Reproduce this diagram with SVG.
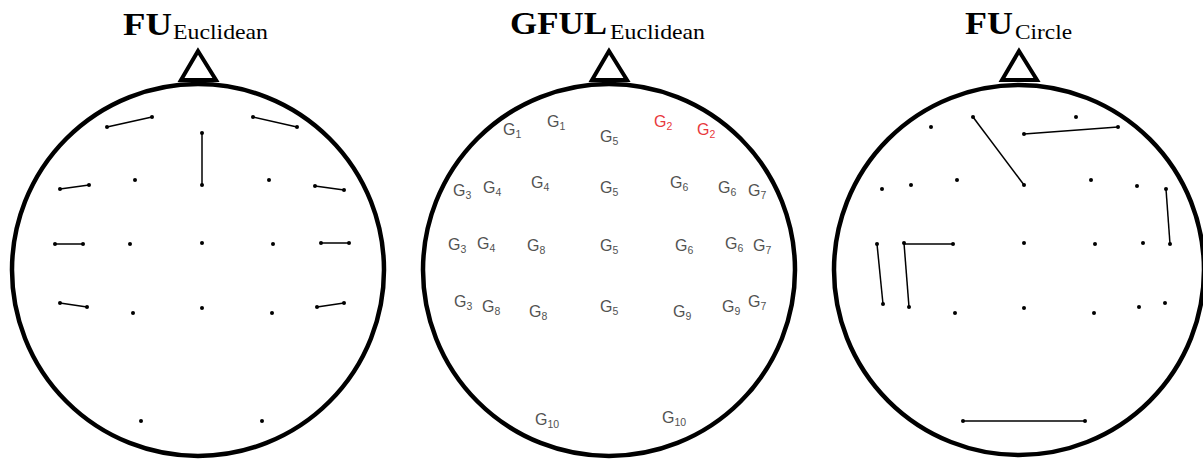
<svg xmlns="http://www.w3.org/2000/svg" width="1203" height="461" viewBox="0 0 1203 461">
<style>
.head{fill:none;stroke:#000;stroke-width:4.5}
.nose{fill:#fff;stroke:#000;stroke-width:4;stroke-linejoin:miter}
.dot{fill:#000}
.edge{stroke:#000;stroke-width:1.5;fill:none}
.ttl{font-family:"Liberation Serif","Times New Roman",serif;font-weight:bold;font-size:31px;fill:#000}
.sub{font-family:"Liberation Serif","Times New Roman",serif;font-size:21px;fill:#000}
.g{font-family:"Liberation Sans",Arial,sans-serif;font-size:16px;fill:#525252}
.r{fill:#e8383d}
.s{font-size:10.5px}
</style>
<defs>
<circle id="d" r="2" class="dot"/>
</defs>
<rect width="1203" height="461" fill="#fff"/>

<!-- Head 1: FU Euclidean -->
<g id="head-fu-euclidean">
<text class="ttl" x="123" y="35" textLength="49" lengthAdjust="spacingAndGlyphs">FU</text>
<text class="sub" x="173" y="39" textLength="95" lengthAdjust="spacingAndGlyphs">Euclidean</text>
<polygon class="nose" points="198,51 181,80 216,80"/>
<circle class="head" cx="198" cy="270" r="186"/>
</g>

<!-- Head 2: GFUL Euclidean -->
<g id="head-gful-euclidean">
<text class="ttl" x="510" y="34" textLength="97" lengthAdjust="spacingAndGlyphs">GFUL</text>
<text class="sub" x="610" y="39" textLength="95" lengthAdjust="spacingAndGlyphs">Euclidean</text>
<polygon class="nose" points="609,51 592,80 627,80"/>
<circle class="head" cx="609" cy="270" r="186"/>
</g>

<!-- Head 3: FU Circle -->
<g id="head-fu-circle">
<text class="ttl" x="965" y="34" textLength="48" lengthAdjust="spacingAndGlyphs">FU</text>
<text class="sub" x="1015" y="39" textLength="57" lengthAdjust="spacingAndGlyphs">Circle</text>
<polygon class="nose" points="1019,51 1002,80 1037,80"/>
<circle class="head" cx="1019" cy="270" r="185"/>
</g>

<!-- Connectors -->
<g id="connectors">
<!-- head 1 -->
<line class="edge" x1="107" y1="127" x2="152" y2="117"/>
<line class="edge" x1="253" y1="117" x2="297" y2="127"/>
<line class="edge" x1="202" y1="133" x2="202" y2="185"/>
<line class="edge" x1="60" y1="189" x2="89" y2="185"/>
<line class="edge" x1="315" y1="186" x2="344" y2="190"/>
<line class="edge" x1="55" y1="244" x2="83" y2="244"/>
<line class="edge" x1="321" y1="243" x2="349" y2="243"/>
<line class="edge" x1="60" y1="303" x2="87" y2="307"/>
<line class="edge" x1="317" y1="307" x2="344" y2="303"/>
<!-- head 3 -->
<line class="edge" x1="973" y1="117" x2="1024" y2="185"/>
<line class="edge" x1="1024" y1="134" x2="1118" y2="127"/>
<line class="edge" x1="1166" y1="189" x2="1170" y2="244"/>
<line class="edge" x1="877" y1="244" x2="883" y2="304"/>
<line class="edge" x1="904" y1="243" x2="909" y2="307"/>
<line class="edge" x1="904" y1="244" x2="953" y2="244"/>
<line class="edge" x1="963" y1="421" x2="1085" y2="421"/>
</g>

<!-- Electrodes head 1 -->
<g id="electrodes-fu-euclidean">
<use href="#d" x="107" y="127"/><use href="#d" x="152" y="117"/>
<use href="#d" x="253" y="117"/><use href="#d" x="297" y="127"/>
<use href="#d" x="202" y="133"/><use href="#d" x="202" y="185"/>
<use href="#d" x="60" y="189"/><use href="#d" x="89" y="185"/>
<use href="#d" x="135" y="180"/><use href="#d" x="269" y="180"/>
<use href="#d" x="315" y="186"/><use href="#d" x="344" y="190"/>
<use href="#d" x="55" y="244"/><use href="#d" x="83" y="244"/>
<use href="#d" x="130" y="244"/><use href="#d" x="202" y="243"/><use href="#d" x="273" y="244"/>
<use href="#d" x="321" y="243"/><use href="#d" x="349" y="243"/>
<use href="#d" x="60" y="303"/><use href="#d" x="87" y="307"/>
<use href="#d" x="133" y="313"/><use href="#d" x="202" y="308"/><use href="#d" x="272" y="313"/>
<use href="#d" x="317" y="307"/><use href="#d" x="344" y="303"/>
<use href="#d" x="141" y="421"/><use href="#d" x="262" y="421"/>
</g>

<!-- Electrodes head 3 -->
<g id="electrodes-fu-circle">
<use href="#d" x="931" y="127"/>
<use href="#d" x="973" y="117"/><use href="#d" x="1024" y="185"/>
<use href="#d" x="1076" y="117"/>
<use href="#d" x="1024" y="134"/><use href="#d" x="1118" y="127"/>
<use href="#d" x="882" y="189"/><use href="#d" x="911" y="185"/><use href="#d" x="957" y="180"/>
<use href="#d" x="1091" y="180"/><use href="#d" x="1137" y="186"/>
<use href="#d" x="1166" y="189"/><use href="#d" x="1170" y="244"/>
<use href="#d" x="877" y="244"/><use href="#d" x="883" y="304"/>
<use href="#d" x="904" y="243"/><use href="#d" x="909" y="307"/><use href="#d" x="953" y="244"/>
<use href="#d" x="1024" y="243"/><use href="#d" x="1095" y="244"/><use href="#d" x="1143" y="243"/>
<use href="#d" x="955" y="313"/><use href="#d" x="1024" y="308"/><use href="#d" x="1094" y="313"/>
<use href="#d" x="1139" y="307"/><use href="#d" x="1165" y="303"/>
<use href="#d" x="963" y="421"/><use href="#d" x="1085" y="421"/>
</g>

<!-- Group labels head 2 -->
<g id="labels-gful">
<text class="g" x="503" y="135">G<tspan class="s" dy="3">1</tspan></text>
<text class="g" x="547" y="127">G<tspan class="s" dy="3">1</tspan></text>
<text class="g" x="600" y="142">G<tspan class="s" dy="3">5</tspan></text>
<text class="g r" x="654" y="127">G<tspan class="s" dy="3">2</tspan></text>
<text class="g r" x="697" y="135">G<tspan class="s" dy="3">2</tspan></text>

<text class="g" x="453" y="196">G<tspan class="s" dy="3">3</tspan></text>
<text class="g" x="483" y="193">G<tspan class="s" dy="3">4</tspan></text>
<text class="g" x="531" y="188">G<tspan class="s" dy="3">4</tspan></text>
<text class="g" x="600" y="193">G<tspan class="s" dy="3">5</tspan></text>
<text class="g" x="670" y="188">G<tspan class="s" dy="3">6</tspan></text>
<text class="g" x="718" y="193">G<tspan class="s" dy="3">6</tspan></text>
<text class="g" x="748" y="196">G<tspan class="s" dy="3">7</tspan></text>

<text class="g" x="448" y="250">G<tspan class="s" dy="3">3</tspan></text>
<text class="g" x="477" y="249">G<tspan class="s" dy="3">4</tspan></text>
<text class="g" x="527" y="251">G<tspan class="s" dy="3">8</tspan></text>
<text class="g" x="600" y="251">G<tspan class="s" dy="3">5</tspan></text>
<text class="g" x="675" y="251">G<tspan class="s" dy="3">6</tspan></text>
<text class="g" x="725" y="249">G<tspan class="s" dy="3">6</tspan></text>
<text class="g" x="753" y="251">G<tspan class="s" dy="3">7</tspan></text>

<text class="g" x="454" y="307">G<tspan class="s" dy="3">3</tspan></text>
<text class="g" x="482" y="312">G<tspan class="s" dy="3">8</tspan></text>
<text class="g" x="529" y="317">G<tspan class="s" dy="3">8</tspan></text>
<text class="g" x="600" y="312">G<tspan class="s" dy="3">5</tspan></text>
<text class="g" x="673" y="317">G<tspan class="s" dy="3">9</tspan></text>
<text class="g" x="722" y="312">G<tspan class="s" dy="3">9</tspan></text>
<text class="g" x="748" y="307">G<tspan class="s" dy="3">7</tspan></text>

<text class="g" x="535" y="425">G<tspan class="s" dy="3">10</tspan></text>
<text class="g" x="662" y="423">G<tspan class="s" dy="3">10</tspan></text>
</g>
</svg>
